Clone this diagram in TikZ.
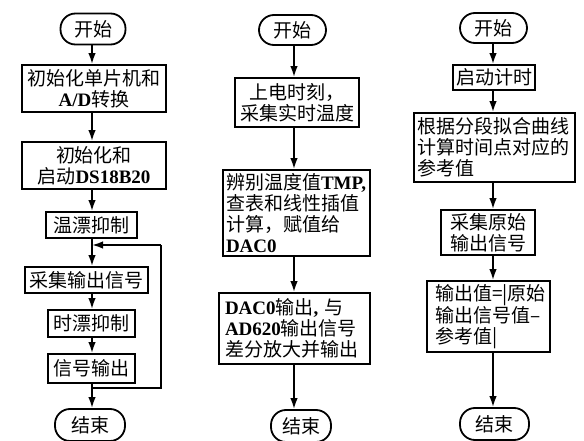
\documentclass[tikz,border=0pt]{standalone}
\usepackage{fontspec}
\setmainfont{Noto Sans CJK SC}
\newfontfamily\latf{Liberation Serif}
\newcommand\en[1]{{\latf\bfseries #1}}
\usetikzlibrary{arrows.meta}
\begin{document}
\begin{tikzpicture}[x=1pt,y=-1pt,
  every node/.style={font=\fontsize{19}{21}\selectfont},
  term/.style={draw, line width=1.8pt, rounded corners=15pt, inner sep=0pt, minimum height=31pt},
  box/.style={draw, line width=1.8pt, inner sep=0pt, align=center},
  lbox/.style={draw, line width=1.8pt, inner ysep=0pt, inner xsep=3pt, align=left},
  ln/.style={line width=1.8pt},
  arr/.style={line width=1.8pt, -{Latex[length=11pt,width=7.5pt]}}]
\fill[white] (0,0) rectangle (584,441);
\useasboundingbox (0,0) rectangle (584,441);
% column coordinates
\coordinate (k1) at (92,0);
\coordinate (k2) at (294,0);
\coordinate (k3) at (493,0);
% ---------- column 1
\node[term, minimum width=65pt] (s1) at (93,29) {开始};
\node[box, minimum width=144pt, minimum height=47pt] (a1) at (94,88.5) {初始化单片机和\\\en{A/D}转换};
\node[box, minimum width=144pt, minimum height=47pt] (a2) at (94,165.5) {初始化和\\启动\en{DS18B20}};
\node[box, minimum width=91pt, minimum height=26pt] (a3) at (91.5,225) {温漂抑制};
\node[box, minimum width=123pt, minimum height=26pt] (a4) at (86.5,280) {采集输出信号};
\node[box, minimum width=87pt, minimum height=27pt] (a5) at (91.5,323.5) {时漂抑制};
\node[box, minimum width=87pt, minimum height=29pt] (a6) at (91.5,368.5) {信号输出};
\node[term, minimum width=70pt, minimum height=32pt] (e1) at (90,425) {结束};
\coordinate (j1) at (92,388);
\coordinate (j2) at (92,245);
\coordinate (r1) at (161,388);
\coordinate (r2) at (161,245);
\draw[arr] (s1.south -| k1) -- (a1.north -| k1);
\draw[arr] (a1.south -| k1) -- (a2.north -| k1);
\draw[arr] (a2.south -| k1) -- (a3.north -| k1);
\draw[arr] (a3.south -| k1) -- (a4.north -| k1);
\draw[arr] (a4.south -| k1) -- (a5.north -| k1);
\draw[arr] (a5.south -| k1) -- (a6.north -| k1);
\draw[ln] (a6.south -| k1) -- (j1) -- (r1) -- (r2);
\draw[arr] (r2) -- (j2);
\draw[arr] (j1) -- (e1.north -| j1);
% ---------- column 2
\node[term, minimum width=67pt, minimum height=30pt] (s2) at (292.5,30) {开始};
\node[box, minimum width=124pt, minimum height=49pt] (b1) at (297,102.5) {上电时刻，\\采集实时温度};
\node[lbox, text width=141pt, minimum height=86pt] (b2) at (296.5,213) {辨别温度值\en{TMP,}\\查表和线性插值\\计算，赋值给\\\en{DAC0}};
\node[lbox, text width=145pt, minimum height=71pt] (b3) at (294.5,328.5) {\hspace*{3pt}\en{DAC0}输出\en{,} 与\\\hspace*{3pt}\en{AD620}输出信号\\\hspace*{3pt}差分放大并输出};
\node[term, minimum width=60pt, minimum height=32pt] (e2) at (301,426) {结束};
\draw[arr] (s2.south -| k2) -- (b1.north -| k2);
\draw[arr] (b1.south -| k2) -- (b2.north -| k2);
\draw[arr] (b2.south -| k2) -- (b3.north -| k2);
\draw[arr] (b3.south -| k2) -- (e2.north -| k2);
% ---------- column 3
\node[term, minimum width=67pt, minimum height=30pt] (s3) at (493.5,28) {开始};
\node[box, minimum width=82pt, minimum height=25pt] (c1) at (494,77.5) {启动计时};
\node[lbox, text width=155pt, minimum height=69pt] (c2) at (494.5,147.5) {根据分段拟合曲线\\计算时间点对应的\\参考值};
\node[box, minimum width=94pt, minimum height=45pt] (c3) at (488,232.5) {采集原始\\输出信号};
\node[lbox, text width=117pt, minimum height=71pt] (c4) at (488.5,316.5) {\hspace*{5pt}输出值=|原始\\\hspace*{5pt}输出信号值–\\\hspace*{5pt}参考值|};
\node[term, minimum width=69pt, minimum height=32pt] (e3) at (494.5,424) {结束};
\draw[arr] (s3.south -| k3) -- (c1.north -| k3);
\draw[arr] (c1.south -| k3) -- (c2.north -| k3);
\draw[arr] (c2.south -| k3) -- (c3.north -| k3);
\draw[arr] (c3.south -| k3) -- (c4.north -| k3);
\draw[arr] (c4.south -| k3) -- (e3.north -| k3);
\end{tikzpicture}
\end{document}
